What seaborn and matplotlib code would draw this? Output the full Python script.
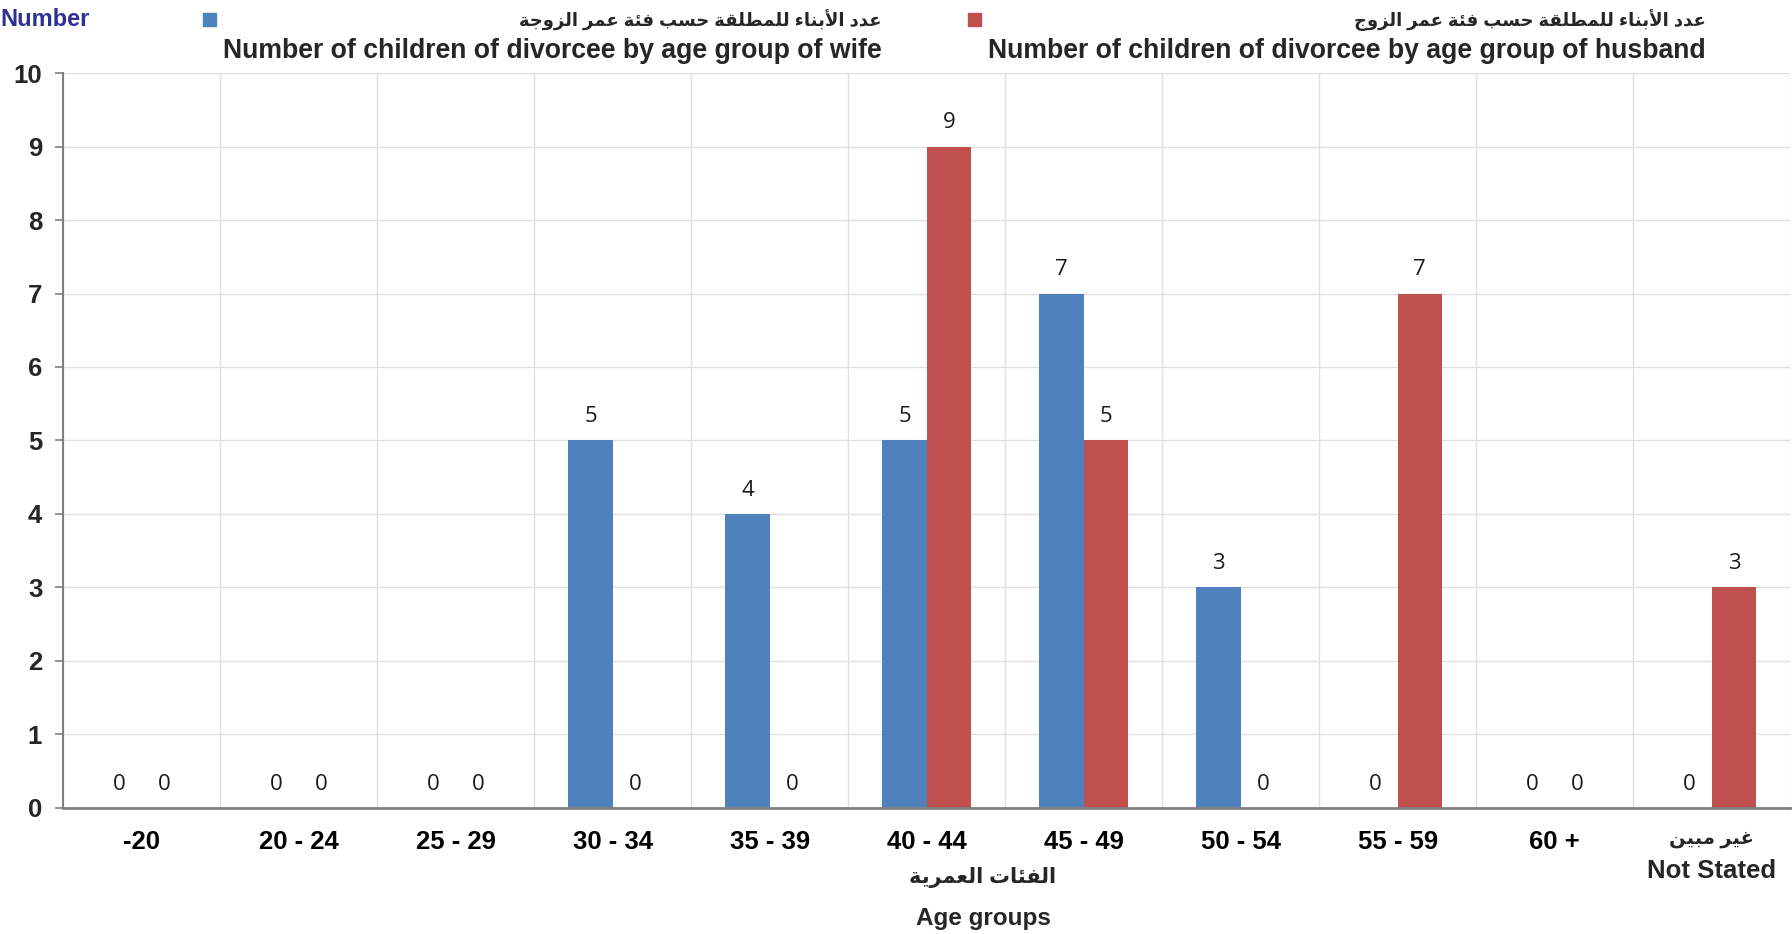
import numpy as np
import pandas as pd
import matplotlib
matplotlib.use("Agg")
import matplotlib.pyplot as plt
import seaborn as sns

# ── Data ──────────────────────────────────────────────────────────────────────
age_groups = ["-20", "20 - 24", "25 - 29", "30 - 34", "35 - 39", "40 - 44",
              "45 - 49", "50 - 54", "55 - 59", "60 +", "غير مبين\nNot Stated"]
wife_children = [0, 0, 0, 5, 4, 5, 7, 3, 0, 0, 0]
husband_children = [0, 0, 0, 0, 0, 9, 5, 0, 7, 0, 3]
series_names = ["wife", "husband"]

legend_wife_ar = "عدد الأبناء للمطلقة حسب فئة عمر الزوجة"
legend_wife_en = "Number of children of divorcee by age group of wife"
legend_husband_ar = "عدد الأبناء للمطلقة حسب فئة عمر الزوج"
legend_husband_en = "Number of children of divorcee by age group of husband"
xlabel_ar = "الفئات العمرية"
xlabel_en = "Age groups"
ylabel = "Number"

BLUE = "#4F81BD"
RED = "#C0504D"


# ── Minimal Arabic shaping (matplotlib has no complex text layout) ────────────
FOUR = {"ئ": 0xFE89, "ب": 0xFE8F, "ت": 0xFE95, "ج": 0xFE9D, "ح": 0xFEA1,
        "س": 0xFEB1, "ط": 0xFEC1, "ع": 0xFEC9, "غ": 0xFECD, "ف": 0xFED1,
        "ق": 0xFED5, "ل": 0xFEDD, "م": 0xFEE1, "ن": 0xFEE5, "ه": 0xFEE9,
        "ي": 0xFEF1}
TWO = {"آ": 0xFE81, "أ": 0xFE83, "ا": 0xFE8D, "ة": 0xFE93, "د": 0xFEA9,
       "ر": 0xFEAD, "ز": 0xFEAF, "و": 0xFEED}
ONE = {"ء": 0xFE80}
LAM_ALEF = {"آ": 0xFEF5, "أ": 0xFEF7, "إ": 0xFEF9, "ا": 0xFEFB}


def is_arabic(line):
    return any("\u0600" <= c <= "\u06FF" for c in line)


def shape_arabic(text):
    tokens = []
    i = 0
    while i < len(text):
        ch = text[i]
        if ch == "ل" and i + 1 < len(text) and text[i + 1] in LAM_ALEF:
            tokens.append(("two", LAM_ALEF[text[i + 1]]))
            i += 2
            continue
        if ch in FOUR:
            tokens.append(("four", FOUR[ch]))
        elif ch in TWO:
            tokens.append(("two", TWO[ch]))
        elif ch in ONE:
            tokens.append(("one", ONE[ch]))
        else:
            tokens.append(("none", ch))
        i += 1

    out = []
    for k, (kind, base) in enumerate(tokens):
        if kind == "none":
            out.append(base)
            continue
        prev_kind = tokens[k - 1][0] if k > 0 else "none"
        next_kind = tokens[k + 1][0] if k + 1 < len(tokens) else "none"
        join_prev = prev_kind == "four" and kind in ("four", "two")
        join_next = kind == "four" and next_kind in ("four", "two")
        if kind == "one":
            off = 0
        elif join_prev and join_next:
            off = 3
        elif join_prev:
            off = 1
        elif join_next:
            off = 2
        else:
            off = 0
        out.append(chr(base + off))
    return "".join(reversed(out))


# ── Style ─────────────────────────────────────────────────────────────────────
sns.set_style("white")
plt.rcParams["font.family"] = ["Liberation Sans", "DejaVu Sans"]

df = pd.DataFrame({
    "age": age_groups * 2,
    "series": [series_names[0]] * len(age_groups) + [series_names[1]] * len(age_groups),
    "value": wife_children + husband_children,
})

fig = plt.figure(figsize=(17.92, 9.34), dpi=100)
ax = fig.add_axes([0.0352, 0.135, 0.9638, 0.7868])

sns.barplot(data=df, x="age", y="value", hue="series", palette=[BLUE, RED],
            width=0.565, gap=0, saturation=1, linewidth=0, legend=False, ax=ax)

for cont, vals in zip(ax.containers, [wife_children, husband_children]):
    ax.bar_label(cont, labels=[str(v) for v in vals], padding=9.5,
                 fontsize=16, family="Open Sans", color="#1a1a1a")

# ── Axes ──────────────────────────────────────────────────────────────────────
ax.set_ylim(0, 10)
ax.set_xlim(-0.5, len(age_groups) - 0.5)
ax.set_yticks(range(0, 11))
ax.set_xticks(range(len(age_groups)))

# two-line labels (Arabic + English) are drawn as separate texts,
# since the Arabic face needs a smaller size than the Latin one
line_y = [-0.0435, -0.0857]
tick_texts = []
for i, label in enumerate(age_groups):
    lines = label.split("\n")
    if len(lines) == 1:
        tick_texts.append(label)
        continue
    tick_texts.append("")
    for j, l in enumerate(lines):
        ar = is_arabic(l)
        ax.text(i, line_y[j], shape_arabic(l) if ar else l,
                transform=ax.get_xaxis_transform(), ha="center", va="center",
                fontsize=14 if ar else 18.5, fontweight="bold")
ax.set_xticklabels(tick_texts, fontweight="bold", fontsize=18.5)
ax.set_xticks(np.arange(-0.5, len(age_groups), 1.0), minor=True)
for lab in ax.get_yticklabels():
    lab.set_fontweight("bold")
    lab.set_fontsize(18.5)

ax.tick_params(axis="x", which="major", length=0, pad=16, colors="black")
ax.tick_params(axis="x", which="minor", length=8, width=1.5, color="#808080",
               direction="out")
ax.tick_params(axis="y", length=6, width=1.2, color="#808080", pad=9,
               direction="out", left=True)

ax.grid(axis="y", color="#E0E0E0", lw=1)
ax.grid(axis="x", which="minor", color="#E0E0E0", lw=1)
ax.set_axisbelow(True)
for s in ["top", "right"]:
    ax.spines[s].set_visible(False)
ax.spines["left"].set_color("#808080")
ax.spines["left"].set_linewidth(1.5)
ax.spines["bottom"].set_color("#808080")
ax.spines["bottom"].set_linewidth(2)
ax.set_xlabel("")
ax.set_ylabel("")

# ── Axis titles & legend texts ────────────────────────────────────────────────
fig.text(983 / 1792, 1 - 877 / 934, shape_arabic(xlabel_ar), ha="center",
         va="center", fontsize=15, fontweight="bold")
fig.text(983 / 1792, 1 - 918 / 934, xlabel_en, ha="center", va="center",
         fontsize=17.5, fontweight="bold")

fig.text(0.0, 1 - 19 / 934, ylabel, ha="left", va="center", fontsize=17,
         fontweight="bold", color="#2E3192")

fig.patches.append(plt.Rectangle((203 / 1792, 1 - 26 / 934), 13 / 1792, 13 / 934,
                                 transform=fig.transFigure, color=BLUE))
fig.text(882 / 1792, 1 - 20 / 934, shape_arabic(legend_wife_ar), ha="right",
         va="center", fontsize=13, fontweight="bold")
fig.text(882 / 1792, 1 - 51 / 934, legend_wife_en, ha="right", va="center",
         fontsize=19.2, fontweight="bold")

fig.patches.append(plt.Rectangle((968 / 1792, 1 - 26 / 934), 13 / 1792, 13 / 934,
                                 transform=fig.transFigure, color=RED))
fig.text(1706 / 1792, 1 - 20 / 934, shape_arabic(legend_husband_ar), ha="right",
         va="center", fontsize=13, fontweight="bold")
fig.text(1706 / 1792, 1 - 51 / 934, legend_husband_en, ha="right", va="center",
         fontsize=19.2, fontweight="bold")

fig.savefig("out.png", dpi=100)
plt.close(fig)
